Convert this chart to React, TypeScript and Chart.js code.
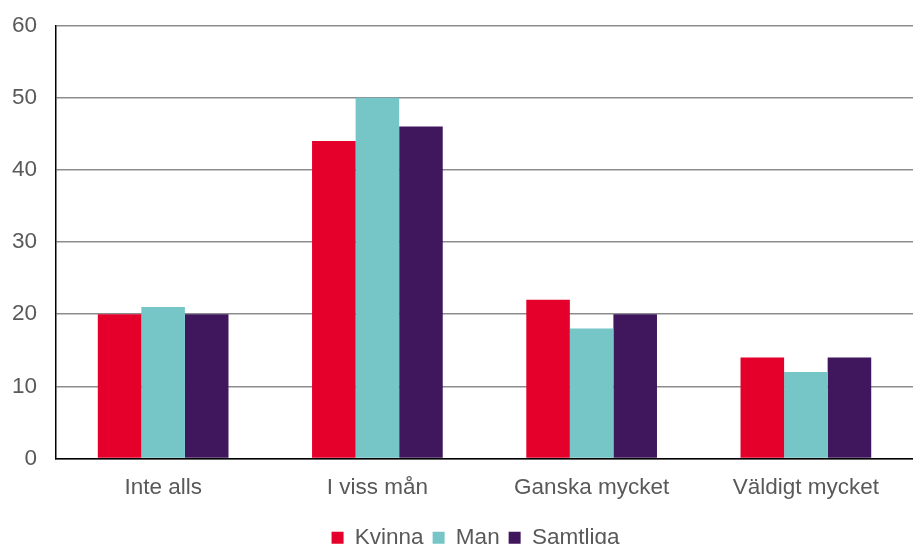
import React, { useEffect, useRef } from "react";
import { Chart, registerables } from "chart.js";

Chart.register(...registerables);

const categories = ["Inte alls", "I viss mån", "Ganska mycket", "Väldigt mycket"];
const kvinna = [20, 44, 22, 14];
const man = [21, 50, 18, 12];
const samtliga = [20, 46, 20, 14];
const seriesNames = ["Kvinna", "Man", "Samtliga"];
const seriesColors = ["#E4002B", "#76C6C8", "#40175C"];

const legendShift = {
  id: "legendShift",
  afterLayout(chart: any) {
    if (chart.legend) {
      chart.legend.left += 19;
      chart.legend.right += 19;
    }
  },
};

export default function App() {
  const ref = useRef<HTMLCanvasElement>(null);
  useEffect(() => {
    document.body.style.margin = "0";
    const font = { family: "'Liberation Sans', Arial, sans-serif", size: 22.5 };
    const chart = new Chart(ref.current!, {
      type: "bar",
      data: {
        labels: categories,
        datasets: [kvinna, man, samtliga].map((d, i) => ({
          label: seriesNames[i],
          data: d,
          backgroundColor: seriesColors[i],
          borderWidth: 0,
          categoryPercentage: 0.61,
          barPercentage: 1,
        })),
      },
      plugins: [legendShift],
      options: {
        animation: false,
        responsive: false,
        maintainAspectRatio: false,
        layout: { padding: { top: 0, right: 0, left: 0, bottom: -15 } },
        plugins: {
          tooltip: { enabled: false },
          legend: {
            position: "bottom",
            labels: {
              color: "#595959",
              font,
              boxWidth: 12,
              boxHeight: 12,
              padding: 9,
            },
          },
        },
        scales: {
          x: {
            grid: { display: false, drawTicks: false },
            border: { color: "#000", width: 1.5 },
            ticks: { color: "#595959", font, padding: 16 },
          },
          y: {
            min: 0,
            max: 60,
            ticks: { stepSize: 10, color: "#595959", font, padding: 12 },
            grid: {
              color: "#8c8c8c",
              lineWidth: 1.5,
              drawTicks: true,
              tickLength: 7,
              tickColor: "rgba(0,0,0,0)",
            },
            border: { color: "#000", width: 1.5 },
          },
        },
      },
    });
    return () => chart.destroy();
  }, []);
  return (
    <div style={{ position: "absolute", left: 0, top: 0, width: 913, height: 544 }}>
      <canvas ref={ref} width={913} height={544} />
    </div>
  );
}
